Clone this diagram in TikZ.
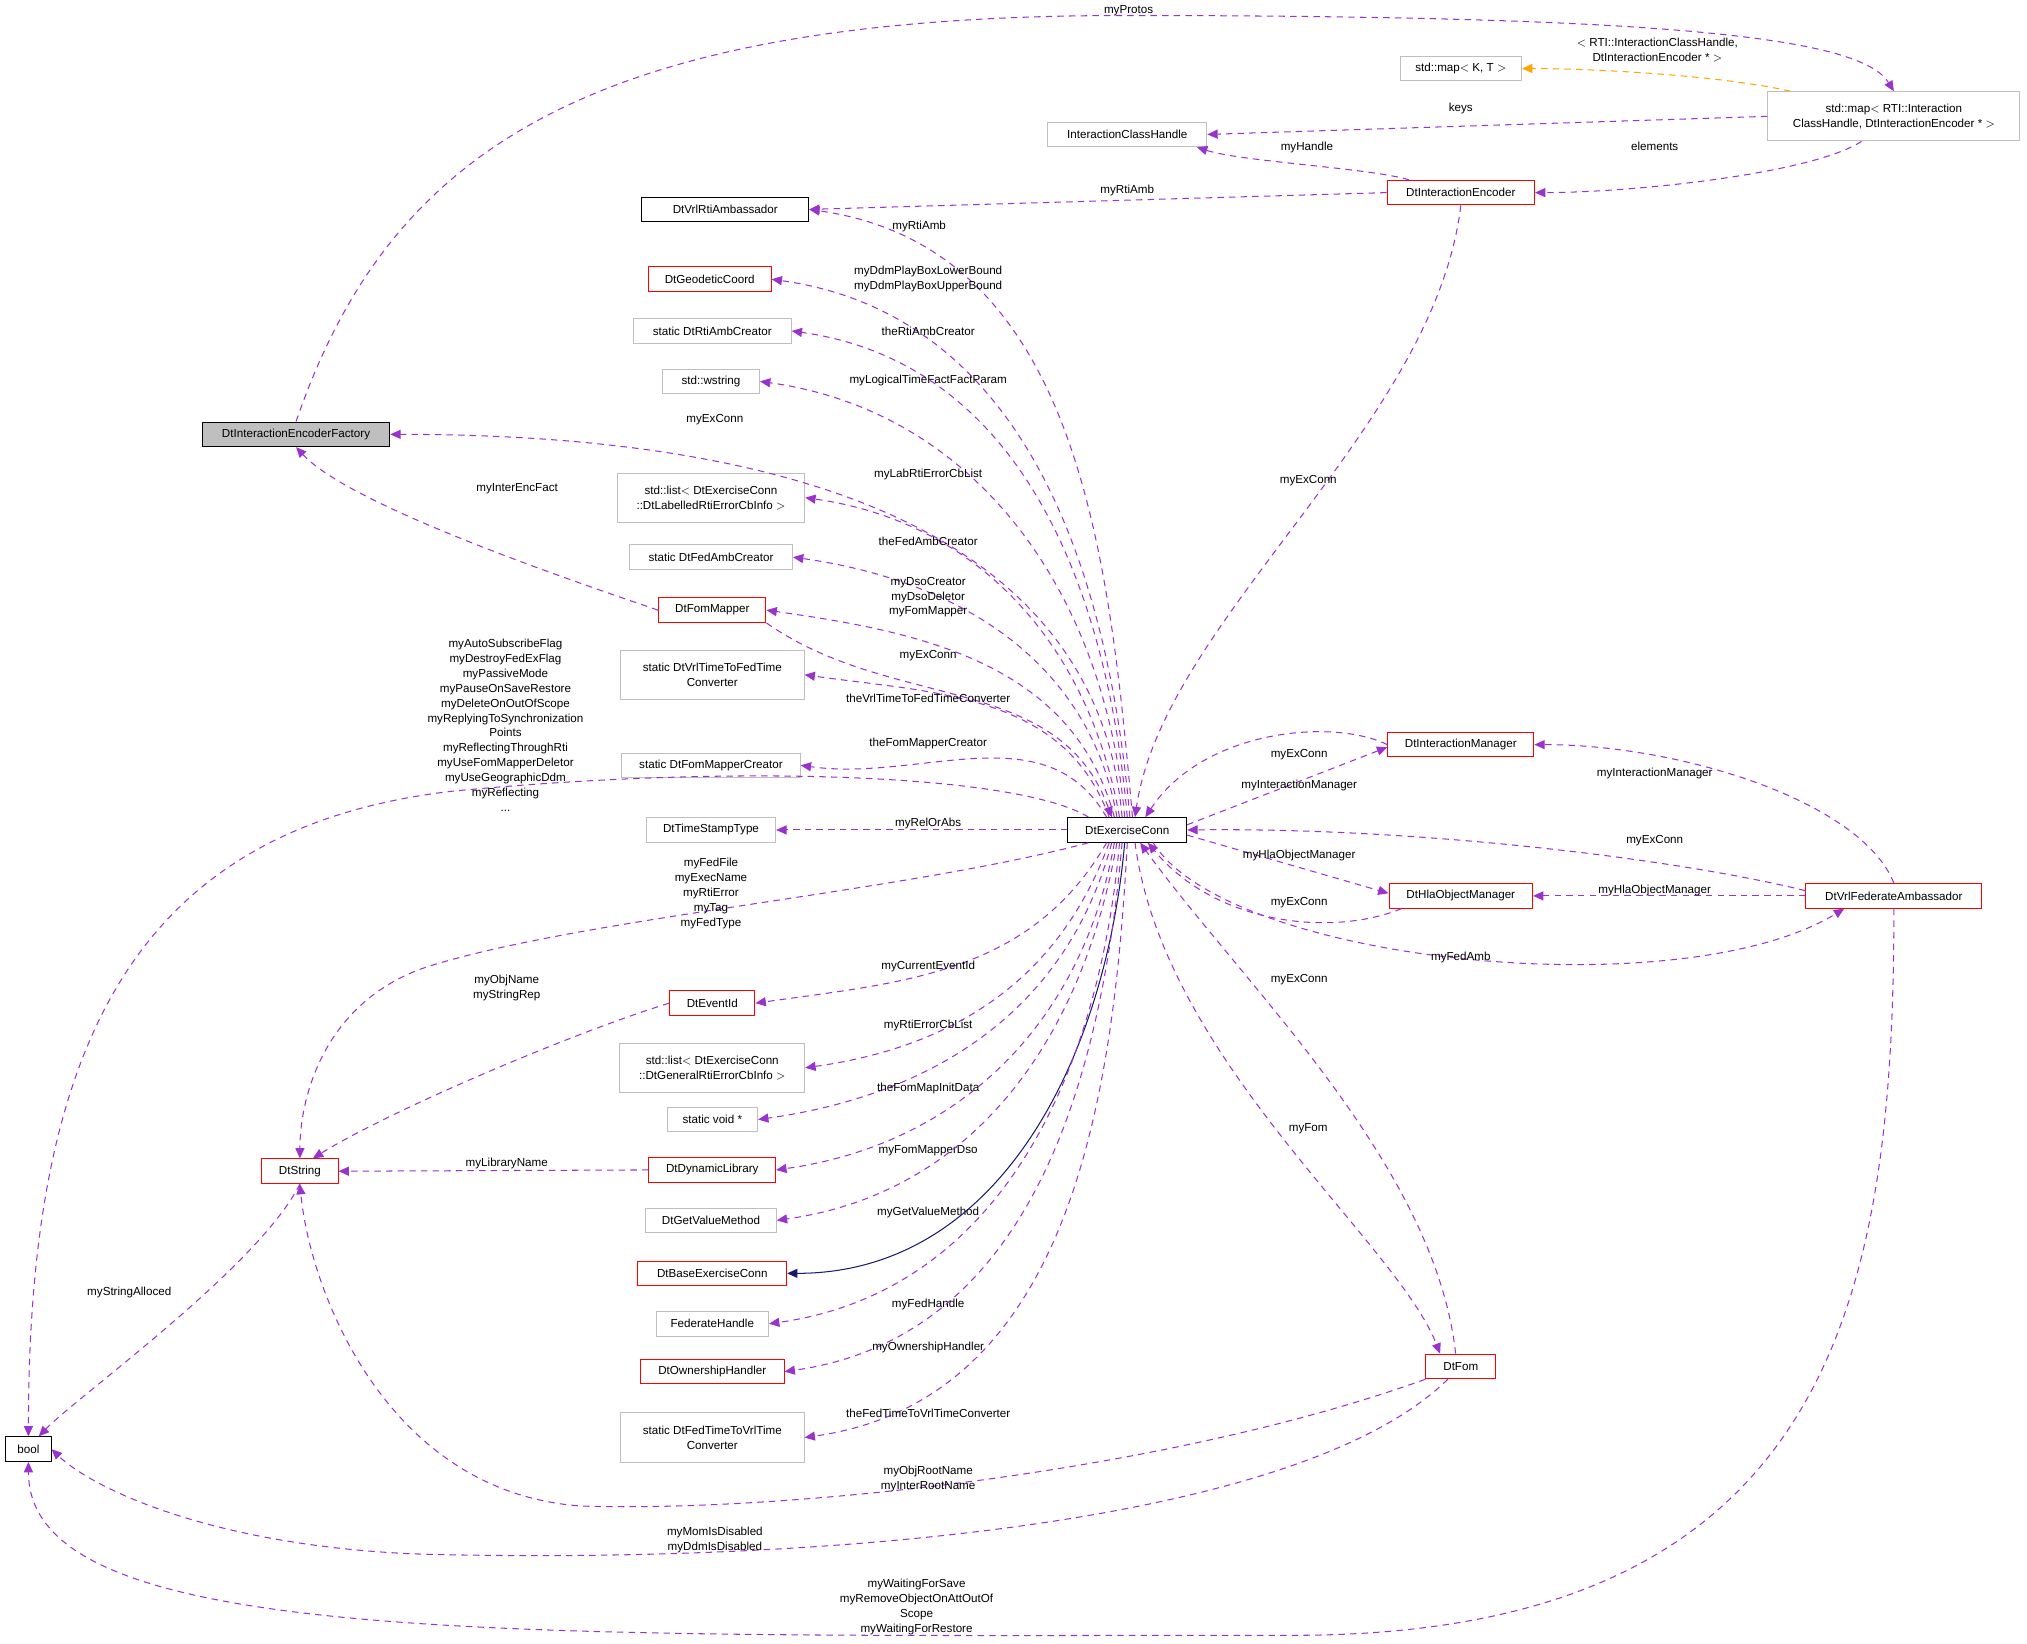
\documentclass[tikz,border=0pt]{standalone}
\usepackage{fontspec}
\setmainfont{Liberation Sans}
\usetikzlibrary{arrows.meta}
\definecolor{dep}{HTML}{9A32CD}
\definecolor{nav}{HTML}{191970}
\definecolor{orng}{HTML}{FFA500}
\definecolor{gbd}{HTML}{BFBFBF}
\begin{document}
\begin{tikzpicture}[x=1pt,y=-1pt,
 every node/.style={font=\fontsize{9}{11.5}\selectfont},
 box/.style={draw, minimum height=19pt, inner sep=0pt, align=center, line width=0.8pt},
 rb/.style={box, draw=red},
 gb/.style={box, draw=gbd},
 kb/.style={box, draw=black},
 dep/.style={draw=dep, dash pattern=on 5pt off 4pt, line width=0.8pt, -{Triangle[length=8pt,width=7pt]}},
 lbl/.style={align=center, inner sep=0pt}]
\useasboundingbox (0,0) rectangle (1568,1271);
% nodes
\node[kb, fill=gbd, minimum width=145pt] (fac) at (229,336) {DtInteractionEncoderFactory};
\node[kb, minimum width=35pt] (bool) at (22,1121) {bool};
\node[rb, minimum width=59pt] (str) at (232,906) {DtString};
\node[kb, minimum width=129pt] (vra) at (561,162) {DtVrlRtiAmbassador};
\node[rb, minimum width=95pt] (geo) at (549,216) {DtGeodeticCoord};
\node[gb, minimum width=122pt] (rac) at (551,256) {static DtRtiAmbCreator};
\node[gb, minimum width=75pt] (wst) at (550,295) {std::wstring};
\node[gb, minimum width=145pt, minimum height=38pt] (lla) at (550,385) {std::list$<$ DtExerciseConn\\::DtLabelledRtiErrorCbInfo $>$};
\node[gb, minimum width=126pt] (fac2) at (550,431) {static DtFedAmbCreator};
\node[rb, minimum width=83pt] (fm) at (551,472) {DtFomMapper};
\node[gb, minimum width=142pt, minimum height=38pt] (v2f) at (551,522) {static DtVrlTimeToFedTime\\Converter};
\node[gb, minimum width=138pt] (fmc) at (550,592) {static DtFomMapperCreator};
\node[gb, minimum width=100pt] (tst) at (550,642) {DtTimeStampType};
\node[rb, minimum width=66pt] (evt) at (551,776) {DtEventId};
\node[gb, minimum width=143pt, minimum height=38pt] (lge) at (551,826) {std::list$<$ DtExerciseConn\\::DtGeneralRtiErrorCbInfo $>$};
\node[gb, minimum width=70pt] (vd) at (551,866) {static void *};
\node[rb, minimum width=98pt] (dl) at (551,905) {DtDynamicLibrary};
\node[gb, minimum width=101pt] (gvm) at (550,944) {DtGetValueMethod};
\node[rb, minimum width=115pt] (base) at (551,985) {DtBaseExerciseConn};
\node[gb, minimum width=87pt] (fh) at (551,1024) {FederateHandle};
\node[rb, minimum width=111pt] (own) at (551,1061) {DtOwnershipHandler};
\node[gb, minimum width=142pt, minimum height=38pt] (f2v) at (551,1112) {static DtFedTimeToVrlTime\\Converter};
\node[kb, minimum width=92pt] (ex) at (872,642) {DtExerciseConn};
\node[rb, minimum width=113pt] (im) at (1130,576) {DtInteractionManager};
\node[rb, minimum width=111pt] (hla) at (1130,693) {DtHlaObjectManager};
\node[rb, minimum width=54pt] (fom) at (1130,1057) {DtFom};
\node[rb, minimum width=136pt] (vfa) at (1465,693) {DtVrlFederateAmbassador};
\node[rb, minimum width=114pt] (ie) at (1130,149) {DtInteractionEncoder};
\node[gb, minimum width=123pt] (ich) at (872,104) {InteractionClassHandle};
\node[gb, minimum width=94pt] (mkt) at (1130,53) {std::map$<$ K, T $>$};
\node[gb, minimum width=195pt, minimum height=38pt] (map) at (1465,90) {std::map$<$ RTI::Interaction\\ClassHandle, DtInteractionEncoder * $>$};
% top-right edges
\draw[dep] (fac.north) .. controls (300,120) and (450,12) .. (870,12) .. controls (1300,12) and (1440,30) .. (map.north);
\node[lbl] (l1) at (873,8) {myProtos};
\draw[draw=orng, dash pattern=on 5pt off 4pt, line width=0.8pt, -{Triangle[length=8pt,width=7pt]}] ([xshift=18pt]map.north west) .. controls (1330,58) and (1230,53) .. (mkt.east);
\node[lbl] (l2) at (1282,39) {$<$ RTI::InteractionClassHandle,\\DtInteractionEncoder * $>$};
\draw[dep] (map.west) -- (ich.east);
\node[lbl] (l3) at (1130,84) {keys};
\draw[dep] ([xshift=-25pt]map.south) .. controls (1400,135) and (1260,149) .. (ie.east);
\node[lbl] (l4) at (1280,113) {elements};
\draw[dep] ([xshift=-40pt]ie.north) .. controls (1060,130) and (960,125) .. ([xshift=-8pt]ich.south east);
\node[lbl] (l5) at (1011,114) {myHandle};
\draw[dep] (ie.west) -- (vra.east);
\node[lbl] (l6) at (872,147) {myRtiAmb};
\draw[dep] (ie.south) .. controls (1110,330) and (900,480) .. ([xshift=6pt]ex.north);
\node[lbl] (l7) at (1012,372) {myExConn};
% upper fan
\draw[dep] ([xshift=4pt]ex.north) to[out=95,in=-8] (vra.east);
\node[lbl] at (711,175) {myRtiAmb};
\draw[dep] ([xshift=2pt]ex.north) to[out=95,in=-8] (geo.east);
\node[lbl] at (718,216) {myDdmPlayBoxLowerBound\\myDdmPlayBoxUpperBound};
\draw[dep] ([xshift=0pt]ex.north) to[out=95,in=-8] (rac.east);
\node[lbl] at (718,256) {theRtiAmbCreator};
\draw[dep] ([xshift=-2pt]ex.north) to[out=95,in=-8] (wst.east);
\node[lbl] at (718,294) {myLogicalTimeFactFactParam};
\draw[dep] ([xshift=-4pt]ex.north) to[out=95,in=0] (fac.east);
\node[lbl] at (553,325) {myExConn};
\draw[dep] ([xshift=-6pt]ex.north) to[out=100,in=-8] (lla.east);
\node[lbl] at (718,367) {myLabRtiErrorCbList};
\draw[dep] ([xshift=-8pt]ex.north) to[out=100,in=-8] (fac2.east);
\node[lbl] at (718,419) {theFedAmbCreator};
\draw[dep] ([xshift=-10pt]ex.north) to[out=105,in=-8] (fm.east);
\node[lbl] at (718,462) {myDsoCreator\\myDsoDeletor\\myFomMapper};
\draw[dep] (fm.south east) to[out=-35,in=110] ([xshift=-12pt]ex.north);
\node[lbl] at (718,507) {myExConn};
\draw[dep] ([xshift=-14pt]ex.north) to[out=110,in=-8] (v2f.east);
\node[lbl] at (718,540) {theVrlTimeToFedTimeConverter};
\draw[dep] ([xshift=-16pt]ex.north) to[out=120,in=-8] (fmc.east);
\node[lbl] at (718,575) {theFomMapperCreator};
\draw[dep] (fm.west) .. controls (430,445) and (270,390) .. (fac.south);
\node[lbl] at (400,378) {myInterEncFact};
% bool and string big curves
\draw[dep] ([xshift=-30pt]ex.north) .. controls (790,600) and (580,590) .. (350,612) .. controls (110,640) and (22,800) .. (bool.north);
\node[lbl] at (391,561) {myAutoSubscribeFlag\\myDestroyFedExFlag\\myPassiveMode\\myPauseOnSaveRestore\\myDeleteOnOutOfScope\\myReplyingToSynchronization\\Points\\myReflectingThroughRti\\myUseFomMapperDeletor\\myUseGeographicDdm\\myReflecting\\...};
\draw[dep] (ex.west) -- (tst.east);
\node[lbl] at (718,637) {myRelOrAbs};
\draw[dep] ([xshift=-30pt]ex.south) .. controls (700,690) and (450,710) .. (330,748) .. controls (250,775) and (232,850) .. (str.north);
\node[lbl] at (550,691) {myFedFile\\myExecName\\myRtiError\\myTag\\myFedType};
% lower fan
\draw[dep] ([xshift=-16pt]ex.south) to[out=-120,in=8] (evt.east);
\node[lbl] at (718,748) {myCurrentEventId};
\draw[dep] ([xshift=-14pt]ex.south) to[out=-110,in=8] (lge.east);
\node[lbl] at (718,793) {myRtiErrorCbList};
\draw[dep] ([xshift=-12pt]ex.south) to[out=-105,in=8] (vd.east);
\node[lbl] at (718,842) {theFomMapInitData};
\draw[dep] ([xshift=-10pt]ex.south) to[out=-100,in=8] (dl.east);
\node[lbl] at (718,890) {myFomMapperDso};
\draw[dep] ([xshift=-8pt]ex.south) to[out=-100,in=8] (gvm.east);
\node[lbl] at (718,938) {myGetValueMethod};
\draw[draw=nav, line width=0.8pt, -{Triangle[length=8pt,width=7pt]}] ([xshift=-2pt]ex.south) to[out=-95,in=0] (base.east);
\draw[dep] ([xshift=-6pt]ex.south) to[out=-95,in=8] (fh.east);
\node[lbl] at (718,1009) {myFedHandle};
\draw[dep] ([xshift=-4pt]ex.south) to[out=-95,in=8] (own.east);
\node[lbl] at (718,1042) {myOwnershipHandler};
\draw[dep] ([xshift=0pt]ex.south) to[out=-93,in=8] (f2v.east);
\node[lbl] at (718,1093) {theFedTimeToVrlTimeConverter};
% left side
\draw[dep] (evt.west) .. controls (440,800) and (300,860) .. ([xshift=10pt]str.north);
\node[lbl] at (392,764) {myObjName\\myStringRep};
\draw[dep] (dl.west) -- (str.east);
\node[lbl] at (392,900) {myLibraryName};
\draw[dep] (str.south) .. controls (200,980) and (60,1080) .. ([xshift=8pt]bool.north);
\node[lbl] at (100,1000) {myStringAlloced};
% right side
\draw[dep] (im.west) .. controls (1030,555) and (930,565) .. ([xshift=14pt]ex.north);
\node[lbl] at (1005,584) {myExConn};
\draw[dep] ([yshift=4pt]ex.east) -- ([yshift=-2pt]im.west);
\node[lbl] at (1005,608) {myInteractionManager};
\draw[dep] ([yshift=-4pt]ex.east) -- ([yshift=2pt]hla.west);
\node[lbl] at (1005,662) {myHlaObjectManager};
\draw[dep] ([xshift=10pt]hla.south west) .. controls (1030,725) and (940,715) .. ([xshift=16pt]ex.south);
\node[lbl] at (1005,698) {myExConn};
\draw[dep] (vfa.north) .. controls (1440,620) and (1300,576) .. (im.east);
\node[lbl] at (1280,598) {myInteractionManager};
\draw[dep] ([yshift=4pt]vfa.west) .. controls (1300,665) and (1100,640) .. (ex.east);
\node[lbl] at (1280,650) {myExConn};
\draw[dep] (vfa.west) -- (hla.east);
\node[lbl] at (1280,689) {myHlaObjectManager};
\draw[dep] ([xshift=20pt]ex.south) .. controls (950,745) and (1300,780) .. ([xshift=30pt]vfa.south west);
\node[lbl] at (1130,741) {myFedAmb};
\draw[dep] ([xshift=-4pt]fom.north) .. controls (1110,900) and (960,760) .. ([xshift=10pt]ex.south);
\node[lbl] at (1005,758) {myExConn};
\draw[dep] ([xshift=6pt]ex.south) .. controls (900,820) and (1080,960) .. ([xshift=-16pt]fom.north);
\node[lbl] at (1012,873) {myFom};
% bottom curves
\draw[dep] (fom.south west) .. controls (900,1140) and (600,1170) .. (450,1165) .. controls (300,1155) and (240,1000) .. (str.south);
\node[lbl] at (718,1144) {myObjRootName\\myInterRootName};
\draw[dep] ([xshift=-10pt]fom.south) .. controls (1000,1185) and (600,1210) .. (320,1202) .. controls (160,1195) and (70,1150) .. (bool.east);
\node[lbl] at (553,1191) {myMomIsDisabled\\myDdmIsDisabled};
\draw[dep] (vfa.south) .. controls (1465,1000) and (1420,1265) .. (1000,1265) .. controls (400,1265) and (22,1275) .. (bool.south);
\node[lbl] at (709,1243) {myWaitingForSave\\myRemoveObjectOnAttOutOf\\Scope\\myWaitingForRestore};
\end{tikzpicture}
\end{document}
